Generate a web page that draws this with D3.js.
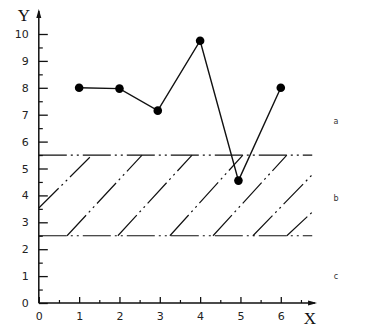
<!DOCTYPE html>
<html>
<head>
<meta charset="utf-8">
<script src="https://cdn.jsdelivr.net/npm/d3@7"></script>
<style>
  body { margin: 0; background: #fff; }
  svg { display: block; }
</style>
</head>
<body>
<div id="chart"></div>
<script>
// measured points (x, y)
const pointX = [1, 2, 2.95, 4, 4.95, 6];
const pointY = [8, 7.97, 7.15, 9.75, 4.55, 8];

// band limits
const bandLevels = [2.5, 5.5];
const bandEnd = 6.78;

// hatch segments inside the band: [x1, y1, x2, y2]
const hatchSegs = [
    [0, 3.53, 1.32, 5.5],
    [0.70, 2.5, 2.56, 5.5],
    [1.96, 2.5, 3.80, 5.5],
    [3.25, 2.5, 5.06, 5.5],
    [4.32, 2.5, 6.15, 5.5],
    [5.31, 2.5, 6.78, 4.77],
    [6.15, 2.5, 6.78, 3.38]
];

// zone labels on the right
const zoneNames = ['a', 'b', 'c'];
const zoneY = [6.75, 3.9, 0.98];

const xTicks = [0, 1, 2, 3, 4, 5, 6];
const xMinor = [0.5, 1.5, 2.5, 3.5, 4.5, 5.5, 6.5];
const yTicks = [0, 1, 2, 3, 4, 5, 6, 7, 8, 9, 10];
const yMinor = [0.5, 1.5, 2.5, 3.5, 4.5, 5.5, 6.5, 7.5, 8.5, 9.5];

const width = 368, height = 332;
const ox = 38.8, oy = 303;

const svg = d3.select('#chart').append('svg')
    .attr('width', width)
    .attr('height', height);

const x = d3.scaleLinear().domain([0, 6]).range([ox, ox + 6 * 40.33]);
const y = d3.scaleLinear().domain([0, 10]).range([oy, 34]);

const dashPat = '28,4,2,4,2,4';
const tickFont = '"DejaVu Sans", sans-serif';

// band lines
svg.append('g').selectAll('line')
    .data(bandLevels)
    .join('line')
    .attr('x1', x(0)).attr('x2', x(bandEnd))
    .attr('y1', d => y(d)).attr('y2', d => y(d))
    .attr('stroke', '#111')
    .attr('stroke-width', 1.2)
    .attr('stroke-dasharray', dashPat);

// hatch
svg.append('g').selectAll('line')
    .data(hatchSegs)
    .join('line')
    .attr('x1', d => x(d[0])).attr('y1', d => y(d[1]))
    .attr('x2', d => x(d[2])).attr('y2', d => y(d[3]))
    .attr('stroke', '#111')
    .attr('stroke-width', 1.2)
    .attr('stroke-dasharray', dashPat);

// y axis
const yAxis = svg.append('g')
    .attr('transform', `translate(${ox},0)`)
    .call(d3.axisLeft(y).tickValues(yTicks).tickFormat(d3.format('d'))
        .tickSizeInner(-9).tickSizeOuter(0).tickPadding(10));
yAxis.select('.domain').remove();
yAxis.selectAll('text').style('font-family', tickFont).style('font-size', '11px').attr('fill', '#222');
yAxis.selectAll('line').attr('stroke', '#111').attr('stroke-width', 1.3);

const yAxisMinor = svg.append('g')
    .attr('transform', `translate(${ox},0)`)
    .call(d3.axisLeft(y).tickValues(yMinor).tickSizeInner(-4).tickSizeOuter(0).tickFormat(''));
yAxisMinor.select('.domain').remove();
yAxisMinor.selectAll('line').attr('stroke', '#111').attr('stroke-width', 1.2);

// x axis
const xAxis = svg.append('g')
    .attr('transform', `translate(0,${oy})`)
    .call(d3.axisBottom(x).tickValues(xTicks).tickFormat(d3.format('d'))
        .tickSizeInner(-6).tickSizeOuter(0).tickPadding(9));
xAxis.select('.domain').remove();
xAxis.selectAll('text').style('font-family', tickFont).style('font-size', '11px').attr('fill', '#222');
xAxis.selectAll('line').attr('stroke', '#111').attr('stroke-width', 1.3);

const xAxisMinor = svg.append('g')
    .attr('transform', `translate(0,${oy})`)
    .call(d3.axisBottom(x).tickValues(xMinor).tickSizeInner(-3).tickSizeOuter(0).tickFormat(''));
xAxisMinor.select('.domain').remove();
xAxisMinor.selectAll('line').attr('stroke', '#111').attr('stroke-width', 1.2);

// axis lines with arrows
const xEnd = x(6.85), yEnd = 11;
svg.append('path')
    .attr('d', `M${ox},${oy}H${xEnd}M${ox},${oy}V${yEnd}`)
    .attr('stroke', '#111').attr('stroke-width', 1.5).attr('fill', 'none');
svg.append('path')
    .attr('d', `M${xEnd + 2},${oy}L${xEnd - 7},${oy - 2.5}L${xEnd - 7},${oy + 2.5}Z`)
    .attr('fill', '#111');
svg.append('path')
    .attr('d', `M${ox},${yEnd - 2}L${ox - 2.5},${yEnd + 7}L${ox + 2.5},${yEnd + 7}Z`)
    .attr('fill', '#111');

// axis names
svg.append('text')
    .attr('x', 24).attr('y', 21)
    .attr('text-anchor', 'middle')
    .style('font-family', '"Liberation Serif", serif')
    .style('font-size', '17px')
    .attr('fill', '#111')
    .text('Y');
svg.append('text')
    .attr('x', 310).attr('y', 324)
    .attr('text-anchor', 'middle')
    .style('font-family', '"Liberation Serif", serif')
    .style('font-size', '17px')
    .attr('fill', '#111')
    .text('X');

// data line
const pts = pointX.map((d, i) => [d, pointY[i]]);
svg.append('path')
    .datum(pts)
    .attr('d', d3.line().x(d => x(d[0])).y(d => y(d[1])))
    .attr('fill', 'none')
    .attr('stroke', '#111')
    .attr('stroke-width', 1.4);

svg.append('g').selectAll('circle')
    .data(pts)
    .join('circle')
    .attr('cx', d => x(d[0]))
    .attr('cy', d => y(d[1]))
    .attr('r', 4.3)
    .attr('fill', '#000');

// zone labels
svg.append('g').selectAll('text')
    .data(zoneNames)
    .join('text')
    .attr('x', 336)
    .attr('y', (d, i) => y(zoneY[i]))
    .attr('dy', '0.35em')
    .attr('text-anchor', 'middle')
    .style('font-family', '"DejaVu Sans", sans-serif')
    .style('font-size', '8px')
    .attr('fill', '#333')
    .text(d => d);
</script>
</body>
</html>
